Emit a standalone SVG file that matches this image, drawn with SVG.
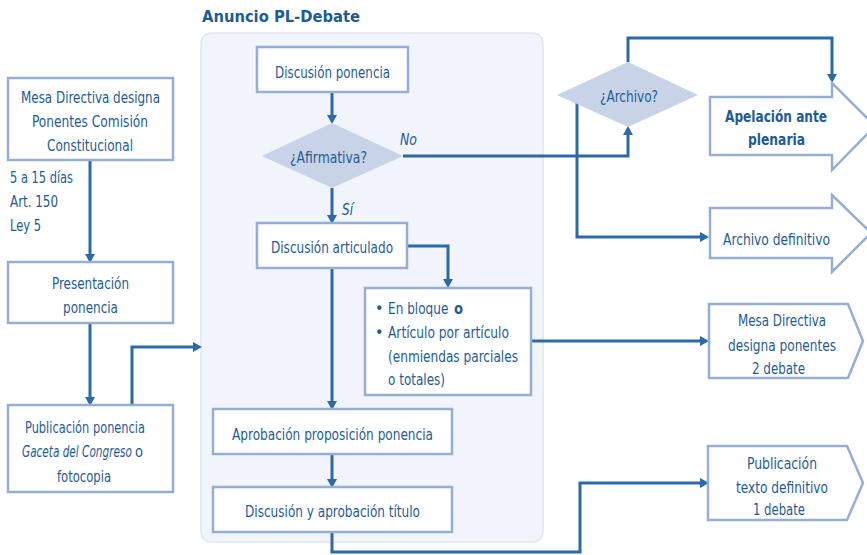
<svg xmlns="http://www.w3.org/2000/svg" width="867" height="555" viewBox="0 0 867 555">
<style>
text{font-family:"DejaVu Sans Condensed","Liberation Sans",sans-serif;font-size:16px;fill:#1e5b98;text-anchor:middle}
.box{fill:#fff;stroke:#96aed4;stroke-width:2.5}
.dia{fill:#c8d3e8}
.con{fill:none;stroke:#2d69a6;stroke-width:3}
.l{text-anchor:start}
.b{font-weight:bold}
.i{font-style:italic}
</style>
<defs>
<marker id="ah" markerUnits="userSpaceOnUse" markerWidth="10" markerHeight="12" viewBox="0 -6 10 12" refX="0" refY="0" orient="auto">
<path d="M0,-5 L9,0 L0,5 Z" fill="#2d69a6"/>
</marker>
</defs>
<rect x="0" y="0" width="867" height="555" fill="#fff"/>
<g id="panel">
<rect x="201" y="33" width="342" height="509" rx="10" fill="#f1f4fa" stroke="#dfe6f1" stroke-width="1.5"/>
<text class="l b" x="202" y="22" textLength="158" lengthAdjust="spacingAndGlyphs">Anuncio PL-Debate</text>
</g>
<g id="connectors">
<path class="con" d="M90,160 V254" marker-end="url(#ah)"/>
<path class="con" d="M90,323 V397" marker-end="url(#ah)"/>
<path class="con" d="M132,405 V347 H193" marker-end="url(#ah)"/>
<path class="con" d="M332,92 V115" marker-end="url(#ah)"/>
<path class="con" d="M403,156 H628 V135" marker-end="url(#ah)"/>
<path class="con" d="M628,62 V38 H832 V74" marker-end="url(#ah)"/>
<path class="con" d="M577,103 V237 H700" marker-end="url(#ah)"/>
<path class="con" d="M332,188 V215" marker-end="url(#ah)"/>
<path class="con" d="M407,246 H448 V279" marker-end="url(#ah)"/>
<path class="con" d="M531,341 H700" marker-end="url(#ah)"/>
<path class="con" d="M332,268 V401" marker-end="url(#ah)"/>
<path class="con" d="M332,454 V479" marker-end="url(#ah)"/>
<path class="con" d="M332,532 V552 H580 V483 H700" marker-end="url(#ah)"/>
<text class="i l" x="400" y="145" textLength="17" lengthAdjust="spacingAndGlyphs">No</text>
<text class="i l" x="342" y="215" textLength="11" lengthAdjust="spacingAndGlyphs">Sí</text>
</g>
<g id="mesa">
<rect class="box" x="8" y="78" width="165" height="82"/>
<text x="90.5" y="103" textLength="139" lengthAdjust="spacingAndGlyphs">Mesa Directiva designa</text>
<text x="90" y="127" textLength="116" lengthAdjust="spacingAndGlyphs">Ponentes Comisión</text>
<text x="90" y="151" textLength="86" lengthAdjust="spacingAndGlyphs">Constitucional</text>
</g>
<g id="plazo">
<text class="l" x="10" y="183" textLength="63" lengthAdjust="spacingAndGlyphs">5 a 15 días</text>
<text class="l" x="10" y="207" textLength="48" lengthAdjust="spacingAndGlyphs">Art. 150</text>
<text class="l" x="10" y="231" textLength="31" lengthAdjust="spacingAndGlyphs">Ley 5</text>
</g>
<g id="presentacion">
<rect class="box" x="8" y="262" width="165" height="61"/>
<text x="90.5" y="289" textLength="77" lengthAdjust="spacingAndGlyphs">Presentación</text>
<text x="90.5" y="313" textLength="55" lengthAdjust="spacingAndGlyphs">ponencia</text>
</g>
<g id="publicacion">
<rect class="box" x="8" y="405" width="165" height="87"/>
<text x="85" y="433" textLength="120" lengthAdjust="spacingAndGlyphs">Publicación ponencia</text>
<text class="i l" transform="translate(22,457) scale(0.73,1)">Gaceta del Congreso</text>
<text class="l" x="135" y="457" textLength="8" lengthAdjust="spacingAndGlyphs">o</text>
<text x="84" y="482" textLength="54" lengthAdjust="spacingAndGlyphs">fotocopia</text>
</g>
<g id="discusion-ponencia">
<rect class="box" x="257" y="47" width="151" height="45"/>
<text x="332.5" y="78" textLength="115" lengthAdjust="spacingAndGlyphs">Discusión ponencia</text>
</g>
<g id="afirmativa">
<polygon class="dia" points="262,156 332,123 403,156 332,188"/>
<text x="328.5" y="163" textLength="77" lengthAdjust="spacingAndGlyphs">¿Afirmativa?</text>
</g>
<g id="archivo">
<polygon class="dia" points="557,95 628,62 698,95 628,127"/>
<text x="629" y="102" textLength="58" lengthAdjust="spacingAndGlyphs">¿Archivo?</text>
</g>
<g id="apelacion">
<polygon class="box" points="710,97 832,97 832,83 875,126 832,170 832,155 710,155"/>
<text class="b" x="776" y="122" textLength="102" lengthAdjust="spacingAndGlyphs">Apelación ante</text>
<text class="b" x="776.5" y="145" textLength="57" lengthAdjust="spacingAndGlyphs">plenaria</text>
</g>
<g id="archivo-definitivo">
<polygon class="box" points="710,208 832,208 832,195 871,233 832,272 832,258 710,258"/>
<text x="776.5" y="245" textLength="107" lengthAdjust="spacingAndGlyphs">Archivo definitivo</text>
</g>
<g id="discusion-articulado">
<rect class="box" x="257" y="223" width="150" height="45"/>
<text x="332" y="253" textLength="122" lengthAdjust="spacingAndGlyphs">Discusión articulado</text>
</g>
<g id="modalidad">
<rect class="box" x="365" y="288" width="166" height="107"/>
<text class="l" x="375" y="314">•</text>
<text class="l" transform="translate(388,314) scale(0.84,1)">En bloque</text>
<text class="l b" x="454" y="314" textLength="9" lengthAdjust="spacingAndGlyphs">o</text>
<text class="l" x="375" y="338">•</text>
<text class="l" x="388" y="338" textLength="121" lengthAdjust="spacingAndGlyphs">Artículo por artículo</text>
<text class="l" x="388" y="362" textLength="130" lengthAdjust="spacingAndGlyphs">(enmiendas parciales</text>
<text class="l" x="388" y="385" textLength="57" lengthAdjust="spacingAndGlyphs">o totales)</text>
</g>
<g id="mesa-2-debate">
<polygon class="box" points="709,304 848,304 863,341 848,378 709,378"/>
<text x="782" y="326" textLength="88" lengthAdjust="spacingAndGlyphs">Mesa Directiva</text>
<text x="782" y="351" textLength="108" lengthAdjust="spacingAndGlyphs">designa ponentes</text>
<text x="778.5" y="374" textLength="53" lengthAdjust="spacingAndGlyphs">2 debate</text>
</g>
<g id="aprobacion">
<rect class="box" x="213" y="409" width="239" height="45"/>
<text x="332.5" y="440" textLength="201" lengthAdjust="spacingAndGlyphs">Aprobación proposición ponencia</text>
</g>
<g id="titulo">
<rect class="box" x="213" y="487" width="239" height="45"/>
<text x="332.5" y="517" textLength="175" lengthAdjust="spacingAndGlyphs">Discusión y aprobación título</text>
</g>
<g id="publicacion-texto">
<polygon class="box" points="708,446 847,446 863,483 847,520 708,520"/>
<text x="782" y="469" textLength="70" lengthAdjust="spacingAndGlyphs">Publicación</text>
<text x="782" y="493" textLength="92" lengthAdjust="spacingAndGlyphs">texto definitivo</text>
<text x="779" y="515" textLength="52" lengthAdjust="spacingAndGlyphs">1 debate</text>
</g>
</svg>
